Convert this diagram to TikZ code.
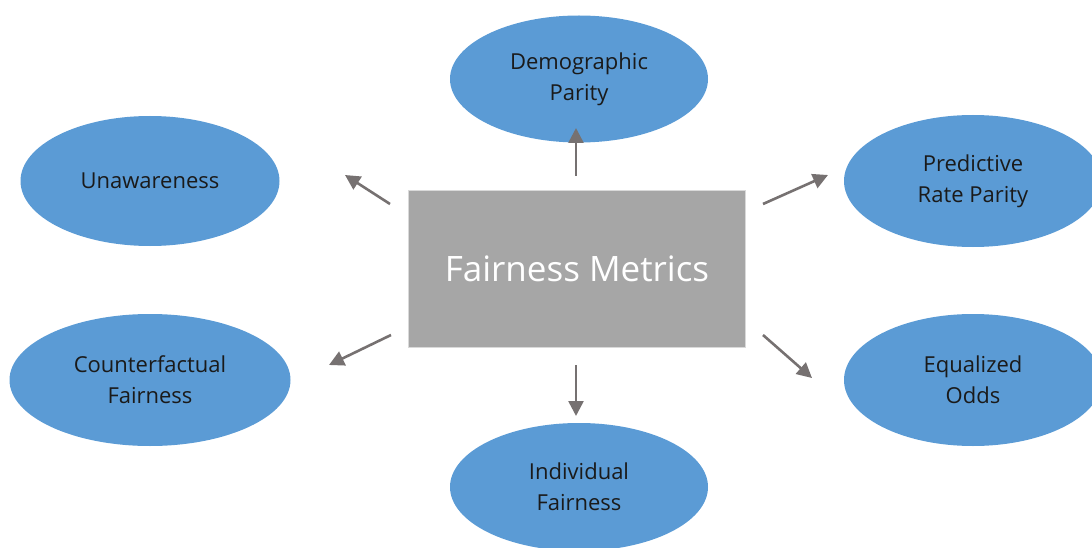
\documentclass[tikz,border=0pt]{standalone}
\usepackage{fontspec}
\setmainfont{Open Sans}
\usetikzlibrary{shapes.geometric,arrows.meta}
\definecolor{ellblue}{HTML}{5B9BD5}
\definecolor{boxgray}{HTML}{A6A6A6}
\definecolor{boxline}{HTML}{D9D9D9}
\definecolor{arrgray}{HTML}{767171}
\definecolor{txt}{HTML}{1A1A1A}
\tikzset{
  metric/.style={ellipse, fill=ellblue, draw=none, inner sep=0pt, text=txt,
    font=\fontsize{22}{31}\selectfont, align=center},
  centerbox/.style={rectangle, fill=boxgray, draw=boxline, line width=1.5pt, inner sep=0pt,
    text=white, font=\fontsize{35}{40}\selectfont},
  link/.style={draw=arrgray, line width=2.6pt, -{Triangle[length=15pt,width=15pt]}}
}
\begin{document}
\begin{tikzpicture}[x=1pt,y=-1pt]
\useasboundingbox (0,0) rectangle (1092,548);
\clip (0,0) rectangle (1092,548);
\node[centerbox, minimum width=337pt, minimum height=157pt] (fm) at (577,269) {Fairness Metrics};
\node[metric, minimum width=258pt, minimum height=127pt] (dp) at (579,79) {Demographic\\Parity};
\node[metric, minimum width=259pt, minimum height=130pt] (un) at (150,181) {Unawareness};
\node[metric, minimum width=258pt, minimum height=132pt] (prp) at (973,181) {Predictive\\Rate Parity};
\node[metric, minimum width=281pt, minimum height=132pt] (cf) at (150,380) {Counterfactual\\Fairness};
\node[metric, minimum width=258pt, minimum height=132pt] (eo) at (973,380) {Equalized\\Odds};
\node[metric, minimum width=258pt, minimum height=128pt] (if) at (579,487) {Individual\\Fairness};
\coordinate (s1) at (576,176); \coordinate (e1) at (576,128);
\coordinate (s2) at (390,204); \coordinate (e2) at (345,175);
\coordinate (s3) at (763,204); \coordinate (e3) at (828,175);
\coordinate (s4) at (391,335); \coordinate (e4) at (329,365);
\coordinate (s5) at (763,335); \coordinate (e5) at (812,378);
\coordinate (s6) at (576,365); \coordinate (e6) at (576,416);
\draw[link] (s1) -- (e1);
\draw[link] (s2) -- (e2);
\draw[link] (s3) -- (e3);
\draw[link] (s4) -- (e4);
\draw[link] (s5) -- (e5);
\draw[link] (s6) -- (e6);
\end{tikzpicture}
\end{document}
